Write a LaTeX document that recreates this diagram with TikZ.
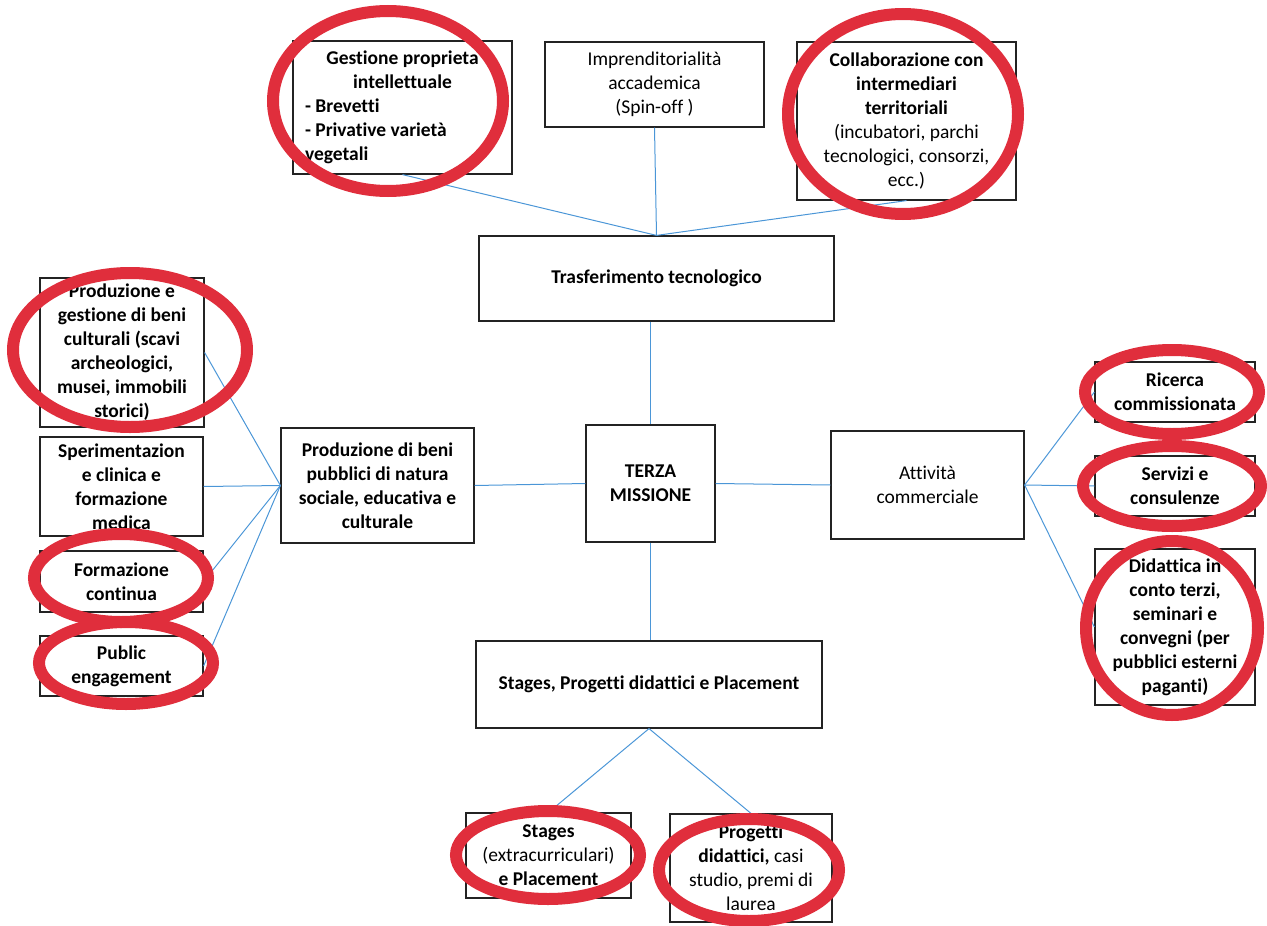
\documentclass[tikz,border=0pt]{standalone}
\usepackage{fontspec}
\setmainfont{Carlito}[Ligatures=NoCommon]
\definecolor{ring}{RGB}{224,46,60}
\definecolor{conn}{RGB}{75,150,215}
\definecolor{boxc}{RGB}{35,35,35}
\begin{document}
\begin{tikzpicture}[x=1pt,y=-1pt,
  bx/.style={draw=boxc, line width=1.2pt, fill=white, inner sep=0pt, align=center,
    font=\fontsize{19.5}{24}\selectfont, text=black},
  link/.style={draw=conn, line width=1pt},
  redring/.style={draw=ring, line width=12pt}]
\useasboundingbox (0,0) rectangle (1267,926);

% ---- boxes ----
\node[bx, minimum width=219pt, minimum height=133pt] (gest) at (402.5,107.5)
 {\makebox[195pt][c]{\bfseries Gestione proprieta}\\
  \makebox[195pt][c]{\bfseries intellettuale}\\
  \makebox[195pt][l]{\bfseries - Brevetti}\\
  \makebox[195pt][l]{\bfseries - Privative varietà}\\
  \makebox[195pt][l]{\bfseries vegetali}};
\node[bx, minimum width=219pt, minimum height=85pt] (impr) at (654.5,84.5)
 {Imprenditorialità\\ accademica\\ (Spin-off )};
\node[bx, minimum width=219pt, minimum height=158pt] (collab) at (906.5,121)
 {\textbf{Collaborazione con}\\ \textbf{intermediari}\\ \textbf{territoriali}\\ (incubatori, parchi\\ tecnologici, consorzi,\\ ecc.)};
\node[bx, minimum width=355pt, minimum height=85pt] (trasf) at (656.5,278.5)
 {\textbf{Trasferimento tecnologico}};
\node[bx, minimum width=129pt, minimum height=117pt] (terza) at (650.5,483.5)
 {\textbf{TERZA}\\ \textbf{MISSIONE}};
\node[bx, minimum width=193pt, minimum height=115pt] (prod) at (377.5,485.5)
 {\textbf{Produzione di beni}\\ \textbf{pubblici di natura}\\ \textbf{sociale, educativa e}\\ \textbf{culturale}};
\node[bx, minimum width=193pt, minimum height=108pt] (att) at (927.5,485)
 {Attività\\ commerciale};
\node[bx, minimum width=346pt, minimum height=87pt] (stg) at (649,684.5)
 {\textbf{Stages, Progetti didattici e Placement}};

\node[bx, minimum width=164pt, minimum height=149pt] (cult) at (122,352.5)
 {\textbf{Produzione e}\\ \textbf{gestione di beni}\\ \textbf{culturali (scavi}\\ \textbf{archeologici,}\\ \textbf{musei, immobili}\\ \textbf{storici)}};
\node[bx, minimum width=163pt, minimum height=99pt] (spe) at (121.5,486.5)
 {\textbf{Sperimentazion}\\ \textbf{e clinica e}\\ \textbf{formazione}\\ \textbf{medica}};
\node[bx, minimum width=163pt, minimum height=61pt] (form) at (121.5,581.5)
 {\textbf{Formazione}\\ \textbf{continua}};
\node[bx, minimum width=163pt, minimum height=60pt] (pub) at (121.5,666)
 {\textbf{Public}\\ \textbf{engagement}};

\node[bx, minimum width=160pt, minimum height=60pt] (ric) at (1175,392)
 {\textbf{Ricerca}\\ \textbf{commissionata}};
\node[bx, minimum width=160pt, minimum height=60pt] (serv) at (1175,486)
 {\textbf{Servizi e}\\ \textbf{consulenze}};
\node[bx, minimum width=160pt, minimum height=156pt] (did) at (1175,627)
 {\textbf{Didattica in}\\ \textbf{conto terzi,}\\ \textbf{seminari e}\\ \textbf{convegni (per}\\ \textbf{pubblici esterni}\\ \textbf{paganti)}};

\node[bx, minimum width=165pt, minimum height=85pt] (extra) at (548.5,855.5)
 {\textbf{Stages}\\ (extracurriculari)\\ \textbf{e Placement}};
\node[bx, minimum width=162pt, minimum height=108pt] (prog) at (751,868)
 {\textbf{Progetti}\\ \textbf{didattici,} casi\\ studio, premi di\\ laurea};

% ---- connectors ----
\draw[link] (gest.south) -- (trasf.north);
\draw[link] (impr.south) -- (trasf.north);
\draw[link] (collab.south) -- (trasf.north);
\draw[link] (terza.north |- trasf.south) -- (terza.north);
\draw[link] (terza.west) -- (prod.east);
\draw[link] (terza.east) -- (att.west);
\draw[link] (terza.south) -- (terza.south |- stg.north);
\draw[link] (prod.west) -- (cult.east);
\draw[link] (prod.west) -- (spe.east);
\draw[link] (prod.west) -- (form.east);
\draw[link] (prod.west) -- (pub.east);
\draw[link] (att.east) -- (ric.west);
\draw[link] (att.east) -- (serv.west);
\draw[link] (att.east) -- (did.west);
\draw[link] (stg.south) -- (extra.north);
\draw[link] (stg.south) -- (prog.north);

% ---- red rings ----
\draw[redring] (388,101) ellipse [x radius=115pt, y radius=90pt];
\draw[redring] (903,114) ellipse [x radius=115pt, y radius=100pt];
\draw[redring] (130,350) ellipse [x radius=117pt, y radius=77pt];
\draw[redring] (121,578) ellipse [x radius=87pt, y radius=44pt];
\draw[redring] (126,663) ellipse [x radius=87pt, y radius=41pt];
\draw[redring] (1172,392) ellipse [x radius=87pt, y radius=42pt];
\draw[redring] (1172,486) ellipse [x radius=89pt, y radius=40pt];
\draw[redring] (1172,628) ellipse [x radius=86pt, y radius=87pt];
\draw[redring] (548,855) ellipse [x radius=92pt, y radius=44pt];
\draw[redring] (749,870) ellipse [x radius=90pt, y radius=51pt];
\end{tikzpicture}
\end{document}
